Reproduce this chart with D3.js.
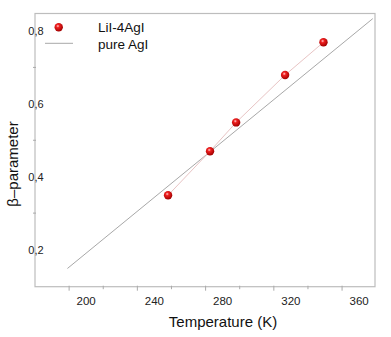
<!DOCTYPE html>
<html>
<head>
<meta charset="utf-8">
<script src="https://cdn.jsdelivr.net/npm/d3@7"></script>
<style>
  body { margin: 0; background: #fff; }
  svg { font-family: "Liberation Sans", Arial, sans-serif; }
</style>
</head>
<body>
<svg id="chart" width="391" height="337"></svg>
<script>
// data
const temps = [248, 272.6, 287.9, 316.6, 339.1];
const beta = [0.349, 0.470, 0.549, 0.679, 0.769];
const pureT = [189, 368];
const pureBeta = [0.148, 0.834];
const xLabels = [200, 240, 280, 320, 360];
const yLabels = [0.2, 0.4, 0.6, 0.8];
const xMajor = [190, 230, 270, 310, 350];
const xMinor = [210, 250, 290, 330];
const yTicks = [0.3, 0.5, 0.7];

const svg = d3.select("#chart");
const x = d3.scaleLinear().domain([170, 369.3]).range([35, 375]);
const y = d3.scaleLinear().domain([0.098, 0.848]).range([286.7, 13.5]);

const defs = svg.append("defs");
const grad = defs.append("radialGradient").attr("id", "ball")
  .attr("cx", "40%").attr("cy", "35%").attr("r", "65%");
grad.append("stop").attr("offset", "0%").attr("stop-color", "#ffd0d0");
grad.append("stop").attr("offset", "30%").attr("stop-color", "#f02020");
grad.append("stop").attr("offset", "100%").attr("stop-color", "#a00000");

// frame
svg.append("rect")
  .attr("x", x.range()[0]).attr("y", y.range()[1])
  .attr("width", x.range()[1] - x.range()[0])
  .attr("height", y.range()[0] - y.range()[1])
  .attr("fill", "none").attr("stroke", "#bdbdbd").attr("stroke-width", 1.2);

// x ticks
const xb = y.range()[0];
svg.selectAll(".xmaj").data(xMajor).enter().append("line")
  .attr("x1", d => x(d)).attr("x2", d => x(d))
  .attr("y1", xb - 1).attr("y2", xb + 4)
  .attr("stroke", "#aaa");
svg.selectAll(".xmin").data(xMinor).enter().append("line")
  .attr("x1", d => x(d)).attr("x2", d => x(d))
  .attr("y1", xb - 1).attr("y2", xb + 2.5)
  .attr("stroke", "#aaa");
svg.selectAll(".xlab").data(xLabels).enter().append("text")
  .attr("x", d => x(d)).attr("y", xb + 18)
  .attr("text-anchor", "middle").attr("font-size", 11.5).attr("fill", "#222")
  .text(d => d);

// y ticks
const yl = x.range()[0];
svg.selectAll(".ytk").data(yTicks).enter().append("line")
  .attr("x1", yl - 2).attr("x2", yl + 1)
  .attr("y1", d => y(d)).attr("y2", d => y(d))
  .attr("stroke", "#aaa");
svg.selectAll(".ylab").data(yLabels).enter().append("text")
  .attr("x", yl + 1).attr("y", d => y(d) + 4)
  .attr("text-anchor", "middle").attr("font-size", 11).attr("fill", "#222")
  .text(d => d3.format(".1f")(d).replace(".", ","));

// axis titles
svg.append("text")
  .attr("x", 223).attr("y", 327)
  .attr("text-anchor", "middle").attr("font-size", 15).attr("fill", "#111")
  .text("Temperature (K)");
svg.append("text")
  .attr("transform", "translate(18,164) rotate(-90)")
  .attr("text-anchor", "middle").attr("font-size", 15).attr("fill", "#111")
  .text("\u03b2\u2013parameter");

// pure AgI line
svg.append("line")
  .attr("x1", x(pureT[0])).attr("y1", y(pureBeta[0]))
  .attr("x2", x(pureT[1])).attr("y2", y(pureBeta[1]))
  .attr("stroke", "#a8a8a8").attr("stroke-width", 1);

// LiI-4AgI
const pts = temps.map((t, i) => [t, beta[i]]);
svg.append("path")
  .attr("d", d3.line().x(d => x(d[0])).y(d => y(d[1]))(pts))
  .attr("fill", "none").attr("stroke", "#e8c4c4").attr("stroke-width", 1);
svg.selectAll(".pt").data(pts).enter().append("circle")
  .attr("cx", d => x(d[0])).attr("cy", d => y(d[1]))
  .attr("r", 4.2).attr("fill", "url(#ball)");

// legend
svg.append("circle").attr("cx", 58.7).attr("cy", 27.3).attr("r", 4.2)
  .attr("fill", "url(#ball)");
svg.append("line").attr("x1", 45).attr("x2", 73).attr("y1", 43.3).attr("y2", 43.3)
  .attr("stroke", "#a8a8a8");
svg.append("text").attr("x", 98).attr("y", 32).attr("font-size", 13.5)
  .attr("fill", "#111").text("LiI-4AgI");
svg.append("text").attr("x", 98).attr("y", 48.5).attr("font-size", 13.5)
  .attr("fill", "#111").text("pure AgI");
</script>
</body>
</html>
